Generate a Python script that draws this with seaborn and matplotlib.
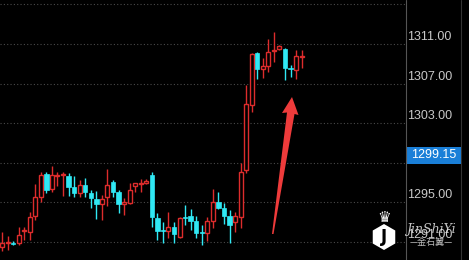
import matplotlib
matplotlib.use("Agg")
import matplotlib.pyplot as plt
import seaborn as sns
import numpy as np
import pandas as pd
from matplotlib.patches import Rectangle, Polygon
from matplotlib.lines import Line2D

# ---------------- data ----------------
opens = [1290.5, 1290.87, 1290.85, 1290.87, 1292.1, 1292.04, 1293.66, 1295.5, 1297.87, 1296.35,
         1297.7, 1297.75, 1297.67, 1296.6, 1295.92, 1296.76, 1295.98, 1295.34, 1294.81, 1295.5,
         1297.1, 1296.0, 1294.81, 1294.9, 1296.7, 1296.86, 1296.93, 1297.77, 1293.4, 1292.2,
         1292.14, 1292.55, 1291.54, 1293.55, 1293.63, 1293.1, 1292.0, 1291.9, 1293.15, 1295.07,
         1294.4, 1293.63, 1293.0, 1293.55, 1298.27, 1304.84, 1310.12, 1308.44, 1308.8, 1310.3,
         1310.5, 1310.47, 1308.6, 1308.37, 1309.7]
highs = [1292.0, 1291.6, 1291.1, 1292.5, 1292.5, 1294.06, 1296.86, 1298.04, 1298.04, 1298.68,
         1298.1, 1298.1, 1297.94, 1297.67, 1297.26, 1297.5, 1296.3, 1296.15, 1295.75, 1298.4,
         1297.26, 1296.3, 1295.4, 1297.0, 1297.0, 1297.4, 1297.33, 1298.1, 1293.9, 1293.0,
         1294.06, 1293.0, 1293.55, 1294.74, 1294.3, 1293.6, 1292.7, 1293.5, 1296.4, 1296.08,
         1294.97, 1294.2, 1294.06, 1299.0, 1306.86, 1310.1, 1310.2, 1309.56, 1311.5, 1312.24,
         1310.9, 1310.57, 1308.9, 1310.4, 1310.4]
lows = [1290.1, 1290.2, 1290.7, 1290.7, 1291.2, 1291.2, 1293.2, 1295.07, 1295.98, 1296.08,
        1296.66, 1295.65, 1295.65, 1295.58, 1295.58, 1295.58, 1294.4, 1293.3, 1293.2, 1294.6,
        1295.58, 1293.9, 1293.7, 1294.8, 1296.0, 1296.0, 1296.86, 1292.55, 1291.2, 1290.9,
        1291.4, 1290.93, 1291.43, 1292.7, 1292.2, 1291.4, 1290.7, 1291.1, 1292.4, 1294.3,
        1292.8, 1290.9, 1292.04, 1292.4, 1297.97, 1304.16, 1307.46, 1307.54, 1308.2, 1309.2,
        1310.4, 1307.36, 1307.7, 1307.5, 1308.6]
closes = [1290.9, 1291.03, 1290.75, 1291.7, 1292.2, 1293.55, 1295.5, 1297.77, 1296.25, 1297.77,
          1297.8, 1297.8, 1296.6, 1295.98, 1296.76, 1296.0, 1295.41, 1294.81, 1295.34, 1296.76,
          1296.0, 1294.81, 1295.0, 1296.3, 1296.93, 1297.0, 1297.2, 1293.55, 1292.14, 1292.1,
          1292.5, 1291.8, 1293.45, 1293.45, 1293.15, 1291.9, 1291.9, 1293.15, 1295.07, 1294.46,
          1293.63, 1292.7, 1293.65, 1298.1, 1304.9, 1309.96, 1308.44, 1308.78, 1310.2, 1310.35,
          1310.75, 1308.55, 1308.5, 1309.8, 1309.75]
grid_ticks = [1291, 1295, 1299, 1303, 1307, 1311, 1315]
label_ticks = [1291, 1295, 1303, 1307, 1311, 1315]
last_price = 1299.15

RED = "#dd2c2c"
CYAN = "#30e8f4"
W, H = 469, 260

# ---------------- style ----------------
sns.set_theme(style="dark", rc={"axes.facecolor": "black", "figure.facecolor": "black",
                                 "savefig.facecolor": "black"})
plt.rcParams["font.family"] = ["Liberation Sans", "DejaVu Sans"]

fig = plt.figure(figsize=(W / 100, H / 100), dpi=100)
ax = fig.add_axes([0, 0, 406 / W, 1])
ax.set_facecolor("black")

df = pd.DataFrame({"open": opens, "high": highs, "low": lows, "close": closes})
df["x"] = np.arange(len(df))
df["up"] = df["close"] >= df["open"]
df["top"] = df[["open", "close"]].max(axis=1)
df["bot"] = df[["open", "close"]].min(axis=1)
df["h"] = (df["top"] - df["bot"]).clip(lower=0.1)

up = df[df["up"]]
dn = df[~df["up"]]

# wicks
ax.vlines(up["x"], up["low"], up["bot"], color=RED, lw=1.0, zorder=3)
ax.vlines(up["x"], up["bot"] + up["h"], up["high"], color=RED, lw=1.0, zorder=3)
ax.vlines(dn["x"], dn["low"], dn["high"], color=CYAN, lw=1.0, zorder=3)
# bodies
ax.bar(up["x"], up["h"], bottom=up["bot"], width=0.72, facecolor="black",
       edgecolor=RED, linewidth=1.0, zorder=4)
ax.bar(dn["x"], dn["h"], bottom=dn["bot"], width=0.8, facecolor=CYAN,
       edgecolor=CYAN, linewidth=0.5, zorder=4)

ax.set_xlim(-0.36, 72.8)
ax.set_ylim(1289.18, 1315.44)
ax.set_yticks(grid_ticks)
ax.set_xticks([])
ax.tick_params(axis="y", labelleft=False, left=False)
ax.grid(axis="y", color="#4a4a4a", linestyle=(0, (1, 2)), linewidth=0.8)
ax.grid(axis="x", visible=False)
for s in ax.spines.values():
    s.set_visible(False)

# price labels on the right
for p in label_ticks:
    ax.annotate(f"{p:.2f}", xy=(1, p), xycoords=("axes fraction", "data"),
                xytext=(1.5, 7), textcoords="offset pixels", ha="left", va="center",
                color="#c8c8c8", fontsize=9, annotation_clip=False)

# vertical divider lines
fig.add_artist(Line2D([406 / W, 406 / W], [0, 1], color="#555555", lw=0.8))
fig.add_artist(Line2D([461 / W, 461 / W], [0, 1], color="#333333", lw=0.8))

# last price box
fig.add_artist(Rectangle((407 / W, 1 - 163.5 / H), 54 / W, 17 / H,
                         transform=fig.transFigure, facecolor="#1a7fd8", edgecolor="none"))
fig.text(434 / W, 1 - 155 / H, f"{last_price:.2f}", color="white", fontsize=9,
         ha="center", va="center")

# red arrow
pts = [(292, 97), (298.5, 115), (294.5, 114), (273.5, 234), (272, 234), (287, 112.5), (282, 113)]
fig.add_artist(Polygon([(x / W, 1 - y / H) for x, y in pts], closed=True,
                       transform=fig.transFigure, facecolor="#ee3b3b", edgecolor="none"))

# watermark logo
cx, cy, r = 384, 237, 13
hexpts = [(cx + r * np.cos(np.radians(90 + 60 * k)), cy - r * np.sin(np.radians(90 + 60 * k)))
          for k in range(6)]
fig.add_artist(Polygon([(x / W, 1 - y / H) for x, y in hexpts], closed=True,
                       transform=fig.transFigure, facecolor="white", edgecolor="none"))
fig.text(cx / W, 1 - (cy + 0.5) / H, "J", color="black", fontsize=12, fontweight="bold",
         ha="center", va="center", family="DejaVu Sans")
fig.text(cx / W, 1 - 218 / H, "♛", color="white", fontsize=11, ha="center", va="center",
         family="DejaVu Sans")
fig.text(431 / W, 1 - 229 / H, "JinShiYi", color="#e6e6e6", fontsize=9, style="italic",
         ha="center", va="center", family="DejaVu Serif", alpha=0.85)
fig.text(431 / W, 1 - 242 / H, "—金石翼—", color="#dddddd", fontsize=6.5,
         ha="center", va="center", family=["Noto Sans CJK SC", "DejaVu Sans"], alpha=0.85)

fig.savefig("out.png", dpi=100, facecolor="black")
